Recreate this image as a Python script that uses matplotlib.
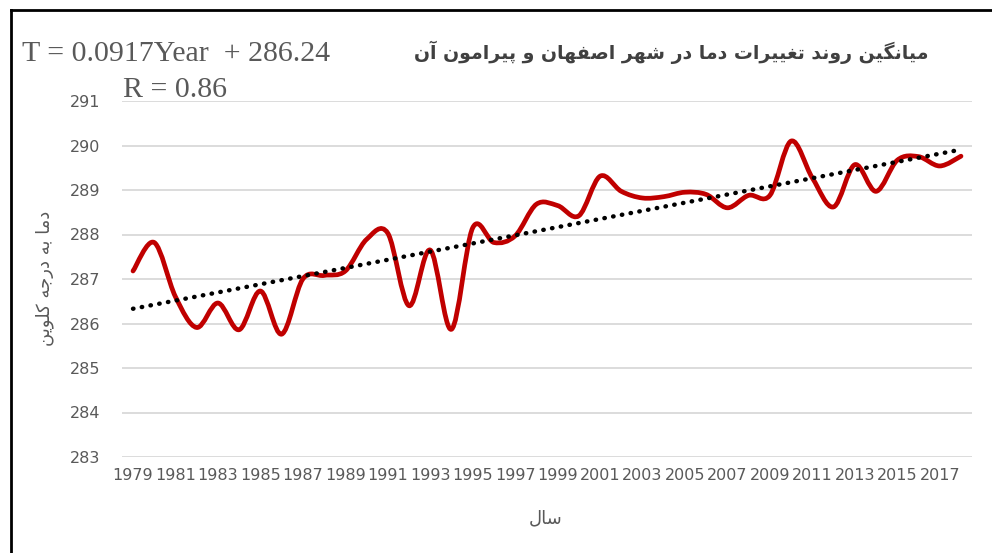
"""Average temperature trend, Isfahan and surroundings (1979-2018)."""

import matplotlib

matplotlib.use("Agg")
import matplotlib.pyplot as plt
from matplotlib.lines import Line2D
from matplotlib.patches import PathPatch
from matplotlib.path import Path

years = list(range(1979, 2019))
temps = [
    287.18, 287.82, 286.60, 285.91, 286.46, 285.86, 286.73, 285.76, 287.00, 287.08,
    287.18, 287.89, 288.03, 286.40, 287.65, 285.87, 288.15, 287.82, 287.97, 288.68,
    288.65, 288.42, 289.31, 288.97, 288.82, 288.85, 288.95, 288.90, 288.60, 288.88,
    288.88, 290.10, 289.27, 288.62, 289.57, 288.97, 289.67, 289.75, 289.54, 289.76,
]
slope, intercept = 0.0917, 286.24  # from the trend label, Year = 1..40
tick_labels = [str(y) for y in years[::2]]

title = "میانگین روند تغییرات دما در شهر اصفهان و پیرامون آن"
ylabel = "دما به درجه کلوین"
xlabel = "سال"

# isolated, final, initial, medial presentation forms
FORMS = {
    "ا": ("\uFE8D", "\uFE8E", None, None),
    "آ": ("\uFE81", "\uFE82", None, None),
    "ب": ("\uFE8F", "\uFE90", "\uFE91", "\uFE92"),
    "پ": ("\uFB56", "\uFB57", "\uFB58", "\uFB59"),
    "ت": ("\uFE95", "\uFE96", "\uFE97", "\uFE98"),
    "ج": ("\uFE9D", "\uFE9E", "\uFE9F", "\uFEA0"),
    "د": ("\uFEA9", "\uFEAA", None, None),
    "ر": ("\uFEAD", "\uFEAE", None, None),
    "س": ("\uFEB1", "\uFEB2", "\uFEB3", "\uFEB4"),
    "ش": ("\uFEB5", "\uFEB6", "\uFEB7", "\uFEB8"),
    "ص": ("\uFEB9", "\uFEBA", "\uFEBB", "\uFEBC"),
    "غ": ("\uFECD", "\uFECE", "\uFECF", "\uFED0"),
    "ف": ("\uFED1", "\uFED2", "\uFED3", "\uFED4"),
    "ک": ("\uFB8E", "\uFB8F", "\uFB90", "\uFB91"),
    "گ": ("\uFB92", "\uFB93", "\uFB94", "\uFB95"),
    "ل": ("\uFEDD", "\uFEDE", "\uFEDF", "\uFEE0"),
    "م": ("\uFEE1", "\uFEE2", "\uFEE3", "\uFEE4"),
    "ن": ("\uFEE5", "\uFEE6", "\uFEE7", "\uFEE8"),
    "ه": ("\uFEE9", "\uFEEA", "\uFEEB", "\uFEEC"),
    "و": ("\uFEED", "\uFEEE", None, None),
    "ی": ("\uFBFC", "\uFBFD", "\uFBFE", "\uFBFF"),
}


def shape(text):
    """Join Persian letters and put them in visual (left-to-right) order."""
    out = []
    for i, c in enumerate(text):
        if c not in FORMS:
            out.append(c)
            continue
        prev = text[i - 1] if i > 0 else ""
        nxt = text[i + 1] if i + 1 < len(text) else ""
        join_prev = prev in FORMS and FORMS[prev][2] is not None
        join_next = nxt in FORMS and FORMS[c][2] is not None
        iso, fin, ini, med = FORMS[c]
        if join_prev and join_next:
            out.append(med)
        elif join_prev:
            out.append(fin)
        elif join_next:
            out.append(ini)
        else:
            out.append(iso)
    return "".join(reversed(out))


def smooth_path(xs, ys):
    """Catmull-Rom style cubic Bezier through the points (like a smoothed line)."""
    pts = list(zip(xs, ys))
    verts = [pts[0]]
    codes = [Path.MOVETO]
    n = len(pts)
    for i in range(n - 1):
        p0 = pts[max(i - 1, 0)]
        p1, p2 = pts[i], pts[i + 1]
        p3 = pts[min(i + 2, n - 1)]
        c1 = (p1[0] + (p2[0] - p0[0]) / 6, p1[1] + (p2[1] - p0[1]) / 6)
        c2 = (p2[0] - (p3[0] - p1[0]) / 6, p2[1] - (p3[1] - p1[1]) / 6)
        verts += [c1, c2, p2]
        codes += [Path.CURVE4] * 3
    return Path(verts, codes)


W, H = 992, 553
fig = plt.figure(figsize=(W / 100, H / 100), dpi=100)
ax = fig.add_axes([122.4 / W, (H - 457) / H, (971.6 - 122.4) / W, (457 - 101) / H])

idx = list(range(len(years)))
ax.add_patch(PathPatch(smooth_path(idx, temps), fill=False, edgecolor="#c00000",
                       lw=3.4, capstyle="round", joinstyle="round", zorder=3))
trend = [slope * (i + 1) + intercept for i in idx]
ax.plot(idx, trend, color="black", lw=3.2, linestyle=(0, (0.1, 1.9)),
        dash_capstyle="round", zorder=4)

ax.set_xlim(-0.5, len(years) - 0.5)
ax.set_ylim(283, 291)
ax.set_yticks(range(283, 292))
ax.set_xticks(idx[::2])
ax.set_xticklabels(tick_labels)
ax.grid(axis="y", color="#d9d9d9", lw=1.3)
ax.set_axisbelow(True)
for s in ax.spines.values():
    s.set_visible(False)
ax.tick_params(length=0, labelsize=11.5, colors="#595959")
ax.tick_params(axis="y", pad=16)
ax.tick_params(axis="x", pad=8)

fig.text(22 / W, 1 - 61 / H, "T = 0.0917Year  + 286.24", family="Liberation Serif",
         fontsize=21.5, color="#595959", va="baseline", ha="left")
fig.text(123 / W, 1 - 97 / H, "R = 0.86", family="Liberation Serif",
         fontsize=21.5, color="#595959", va="baseline", ha="left")
fig.text(928 / W, 1 - 52 / H, shape(title), family="DejaVu Sans", fontweight="bold",
         fontsize=13.6, color="#404040", va="center", ha="right")
fig.text(45 / W, 1 - 278 / H, shape(ylabel), family="DejaVu Sans", rotation=90,
         fontsize=13, color="#595959", va="center", ha="center")
fig.text(546 / W, 1 - 518 / H, shape(xlabel), family="DejaVu Sans",
         fontsize=13, color="#595959", va="center", ha="center")

# frame edges of the original screenshot
fig.add_artist(Line2D([11 / W, 11 / W], [0, 1 - 10 / H], color="black", lw=2))
fig.add_artist(Line2D([11 / W, 1], [1 - 10 / H, 1 - 10 / H], color="black", lw=2))

fig.savefig("out.png", dpi=100)
